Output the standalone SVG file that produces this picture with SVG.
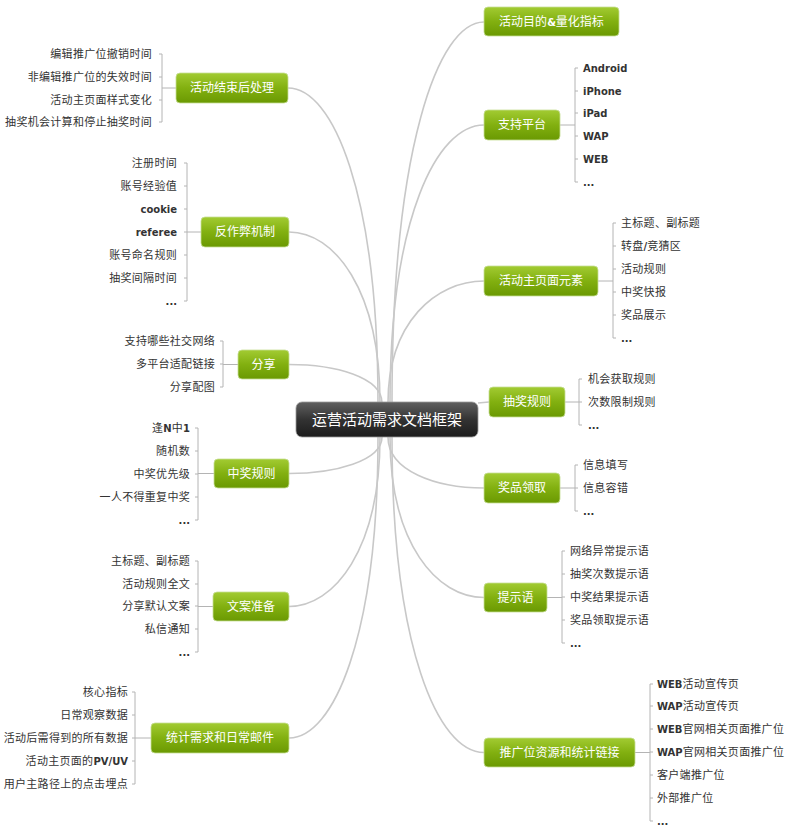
<svg xmlns="http://www.w3.org/2000/svg" width="790" height="829" viewBox="0 0 790 829">
<defs>
<linearGradient id="gg" x1="0" y1="0" x2="0" y2="1">
<stop offset="0" stop-color="#a2cb32"/>
<stop offset="0.5" stop-color="#82b010"/>
<stop offset="1" stop-color="#6a9902"/>
</linearGradient>
<linearGradient id="cg" x1="0" y1="0" x2="0" y2="1">
<stop offset="0" stop-color="#606060"/>
<stop offset="0.5" stop-color="#333"/>
<stop offset="1" stop-color="#1c1c1c"/>
</linearGradient>
<style>
.conn{fill:none;stroke:#c8c8c8;stroke-width:1.6}
.br{fill:none;stroke:#b4b4b4;stroke-width:1}
.gn{fill:url(#gg);stroke:#c7de95;stroke-width:0.8}
.nt{font-family:"Noto Sans CJK SC",sans-serif;font-size:12px;fill:#fff;text-anchor:middle}
.ct{font-family:"Noto Sans CJK SC",sans-serif;font-size:15px;fill:#fff;text-anchor:middle}
.lf{font-family:"Noto Sans CJK SC",sans-serif;font-size:11px;fill:#333;letter-spacing:0.3px}
.r{text-anchor:start}
.l{text-anchor:end}
.b{font-family:"DejaVu Sans",sans-serif;font-weight:bold;font-size:10px;letter-spacing:0}
</style>
</defs>
<rect width="790" height="829" fill="#fff"/>
<g id="connectors">
<path class="conn" d="M392,403 C392,149 438,22 484,22"/>
<path class="conn" d="M390,403 C390,218 437,125 484,125"/>
<path class="conn" d="M388,403 C388,322 436,281 484,281"/>
<path class="conn" d="M478,403 L489,402"/>
<path class="conn" d="M388,437 C388,471 436,488 484,488"/>
<path class="conn" d="M390,437 C390,544 437,597.5 484,597.5"/>
<path class="conn" d="M392,437 C392,647 438,752.5 484,752.5"/>
<path class="conn" d="M378,403 C378,193 333,88 288,88"/>
<path class="conn" d="M380,403 C380,289 334,232 289,232"/>
<path class="conn" d="M382,403 C382,377 335,364.5 289,364.5"/>
<path class="conn" d="M382,437 C382,461 335,473.5 289,473.5"/>
<path class="conn" d="M380,437 C380,550 334,606.5 289,606.5"/>
<path class="conn" d="M378,437 C378,638 333,738 289,738"/>
<!-- brackets right -->
<path class="br" d="M560,125H575 M578,68H575V182H578 M575,91H578 M575,113H578 M575,136H578 M575,159H578"/>
<path class="br" d="M598,281H613 M616,223H613V338H616 M613,246H616 M613,269H616 M613,292H616 M613,315H616"/>
<path class="br" d="M565,402H579 M582,379H579V425H582 M579,402H582"/>
<path class="br" d="M560,488H575 M578,465H575V511H578 M575,488H578"/>
<path class="br" d="M547,597.5H562 M565,551H562V643H565 M562,574H565 M562,597H565 M562,620H565"/>
<path class="br" d="M635,752.5H650 M653,684H650V821H653 M650,706H653 M650,729H653 M650,752H653 M650,775H653 M650,798H653"/>
<!-- brackets left -->
<path class="br" d="M176,88H162 M159,54H162V122H159 M162,77H159 M162,100H159"/>
<path class="br" d="M201,232H187 M184,163H187V301H184 M187,186H184 M187,209H184 M187,232H184 M187,255H184 M187,278H184"/>
<path class="br" d="M238,364.5H223 M220,341H223V387H220 M223,364H220"/>
<path class="br" d="M214,473.5H198 M195,428H198V520H195 M198,451H195 M198,474H195 M198,497H195"/>
<path class="br" d="M213,606.5H198 M195,561H198V652H195 M198,584H195 M198,606H195 M198,629H195"/>
<path class="br" d="M151,738H135 M132,692H135V784H132 M135,715H132 M135,738H132 M135,761H132"/>
</g>
<g id="center">
<rect x="296" y="402" width="182" height="35" rx="6" fill="url(#cg)" stroke="#9a9a9a" stroke-width="0.8"/>
<text class="ct" x="387" y="425">运营活动需求文档框架</text>
</g>
<g id="n-goal"><rect class="gn" x="484" y="7" width="135" height="29" rx="4"/><text class="nt" x="551.5" y="26">活动目的<tspan class="b" font-size="11px">&amp;</tspan>量化指标</text></g>
<g id="n-platform"><rect class="gn" x="484" y="110" width="76" height="30" rx="4"/><text class="nt" x="522" y="129">支持平台</text></g>
<g id="n-page"><rect class="gn" x="484" y="266" width="114" height="30" rx="4"/><text class="nt" x="541" y="285">活动主页面元素</text></g>
<g id="n-lottery"><rect class="gn" x="489" y="387" width="76" height="30" rx="4"/><text class="nt" x="527" y="406">抽奖规则</text></g>
<g id="n-prize"><rect class="gn" x="484" y="473" width="76" height="30" rx="4"/><text class="nt" x="522" y="492">奖品领取</text></g>
<g id="n-tips"><rect class="gn" x="484" y="583" width="63" height="29" rx="4"/><text class="nt" x="515.5" y="602">提示语</text></g>
<g id="n-promo"><rect class="gn" x="484" y="738" width="151" height="29" rx="4"/><text class="nt" x="559.5" y="757">推广位资源和统计链接</text></g>
<g id="n-end"><rect class="gn" x="176" y="73" width="112" height="30" rx="4"/><text class="nt" x="232" y="92">活动结束后处理</text></g>
<g id="n-anti"><rect class="gn" x="201" y="217" width="88" height="30" rx="4"/><text class="nt" x="245" y="236">反作弊机制</text></g>
<g id="n-share"><rect class="gn" x="238" y="350" width="51" height="29" rx="4"/><text class="nt" x="263.5" y="369">分享</text></g>
<g id="n-win"><rect class="gn" x="214" y="459" width="75" height="29" rx="4"/><text class="nt" x="251.5" y="478">中奖规则</text></g>
<g id="n-copy"><rect class="gn" x="213" y="592" width="76" height="29" rx="4"/><text class="nt" x="251" y="611">文案准备</text></g>
<g id="n-stat"><rect class="gn" x="151" y="723" width="138" height="30" rx="4"/><text class="nt" x="220" y="742">统计需求和日常邮件</text></g>
<g id="leaves-platform" class="lf">
<text class="r b" x="583" y="72">Android</text>
<text class="r b" x="583" y="95">iPhone</text>
<text class="r b" x="583" y="117">iPad</text>
<text class="r b" x="583" y="140">WAP</text>
<text class="r b" x="583" y="163">WEB</text>
<text class="r b" x="583" y="186">...</text>
</g>
<g id="leaves-page" class="lf">
<text class="r" x="621" y="227">主标题、副标题</text>
<text class="r" x="621" y="250">转盘<tspan class="b">/</tspan>竞猜区</text>
<text class="r" x="621" y="273">活动规则</text>
<text class="r" x="621" y="296">中奖快报</text>
<text class="r" x="621" y="319">奖品展示</text>
<text class="r b" x="621" y="342">...</text>
</g>
<g id="leaves-lottery" class="lf">
<text class="r" x="588" y="383">机会获取规则</text>
<text class="r" x="588" y="406">次数限制规则</text>
<text class="r b" x="588" y="429">...</text>
</g>
<g id="leaves-prize" class="lf">
<text class="r" x="583" y="469">信息填写</text>
<text class="r" x="583" y="492">信息容错</text>
<text class="r b" x="583" y="515">...</text>
</g>
<g id="leaves-tips" class="lf">
<text class="r" x="570" y="555">网络异常提示语</text>
<text class="r" x="570" y="578">抽奖次数提示语</text>
<text class="r" x="570" y="601">中奖结果提示语</text>
<text class="r" x="570" y="624">奖品领取提示语</text>
<text class="r b" x="570" y="647">...</text>
</g>
<g id="leaves-promo" class="lf">
<text class="r" x="657" y="688"><tspan class="b">WEB</tspan>活动宣传页</text>
<text class="r" x="657" y="710"><tspan class="b">WAP</tspan>活动宣传页</text>
<text class="r" x="657" y="733"><tspan class="b">WEB</tspan>官网相关页面推广位</text>
<text class="r" x="657" y="756"><tspan class="b">WAP</tspan>官网相关页面推广位</text>
<text class="r" x="657" y="779">客户端推广位</text>
<text class="r" x="657" y="802">外部推广位</text>
<text class="r b" x="657" y="825">...</text>
</g>
<g id="leaves-end" class="lf">
<text class="l" x="152" y="58">编辑推广位撤销时间</text>
<text class="l" x="152" y="81">非编辑推广位的失效时间</text>
<text class="l" x="152" y="104">活动主页面样式变化</text>
<text class="l" x="152" y="126">抽奖机会计算和停止抽奖时间</text>
</g>
<g id="leaves-anti" class="lf">
<text class="l" x="177" y="167">注册时间</text>
<text class="l" x="177" y="190">账号经验值</text>
<text class="l b" x="177" y="213">cookie</text>
<text class="l b" x="177" y="236">referee</text>
<text class="l" x="177" y="259">账号命名规则</text>
<text class="l" x="177" y="282">抽奖间隔时间</text>
<text class="l b" x="177" y="305">...</text>
</g>
<g id="leaves-share" class="lf">
<text class="l" x="215" y="345">支持哪些社交网络</text>
<text class="l" x="215" y="368">多平台适配链接</text>
<text class="l" x="215" y="391">分享配图</text>
</g>
<g id="leaves-win" class="lf">
<text class="l" x="190" y="432">逢<tspan class="b">N</tspan>中<tspan class="b">1</tspan></text>
<text class="l" x="190" y="455">随机数</text>
<text class="l" x="190" y="478">中奖优先级</text>
<text class="l" x="190" y="501">一人不得重复中奖</text>
<text class="l b" x="190" y="524">...</text>
</g>
<g id="leaves-copy" class="lf">
<text class="l" x="190" y="565">主标题、副标题</text>
<text class="l" x="190" y="588">活动规则全文</text>
<text class="l" x="190" y="610">分享默认文案</text>
<text class="l" x="190" y="633">私信通知</text>
<text class="l b" x="190" y="656">...</text>
</g>
<g id="leaves-stat" class="lf">
<text class="l" x="128" y="696">核心指标</text>
<text class="l" x="128" y="719">日常观察数据</text>
<text class="l" x="128" y="742">活动后需得到的所有数据</text>
<text class="l" x="128" y="765">活动主页面的<tspan class="b">PV/UV</tspan></text>
<text class="l" x="128" y="788">用户主路径上的点击埋点</text>
</g>
</svg>
